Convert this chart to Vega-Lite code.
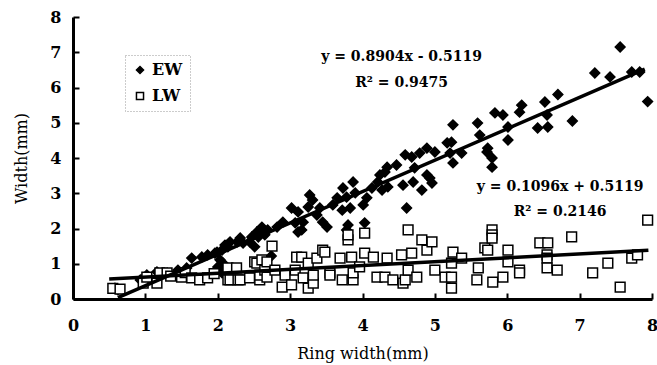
{
  "$schema": "https://vega.github.io/schema/vega-lite/v6.json",
  "autosize": {"type": "none"},
  "width": 579,
  "height": 282,
  "padding": {"left": 73, "top": 17, "right": 5, "bottom": 66},
  "background": "white",
  "config": {
    "view": {"stroke": null},
    "font": "DejaVu Serif",
    "axis": {
      "domainColor": "black", "domainWidth": 3,
      "tickColor": "black", "tickWidth": 2, "tickSize": -6,
      "labelFont": "DejaVu Serif", "labelFontSize": 16, "labelFontWeight": "bold", "labelColor": "black", "labelOverlap": false, "labelFlush": false,
      "titleFont": "DejaVu Serif", "titleFontSize": 16, "titleFontWeight": "normal", "titleColor": "black",
      "grid": false
    },
    "legend": {
      "symbolStrokeColor": "black", "symbolStrokeWidth": 1.5,
      "labelFont": "DejaVu Serif", "labelFontSize": 16, "labelFontWeight": "bold", "labelColor": "black",
      "symbolSize": 50, "rowPadding": 10, "padding": 7, "strokeColor": "#999", "strokeDash": [1, 2],
      "orient": "none", "legendX": 52, "legendY": 38
    }
  },
  "encoding": {
    "x": {"field": "rw", "type": "quantitative", "scale": {"domain": [0, 8], "nice": false},
          "axis": {"title": "Ring width(mm)", "values": [0,1,2,3,4,5,6,7,8], "format": "d", "labelOverlap": false, "labelPadding": 24, "titlePadding": 12}},
    "y": {"field": "w", "type": "quantitative", "scale": {"domain": [0, 8], "nice": false},
          "axis": {"title": "Width(mm)", "values": [0,1,2,3,4,5,6,7,8], "format": "d", "labelOverlap": false, "labelPadding": 18, "titlePadding": 20}}
  },
  "layer": [
    {
      "data": {"values": [
        {"series":"EW","rw":0.58,"w":0.31},{"series":"EW","rw":0.62,"w":0.26},{"series":"EW","rw":0.93,"w":0.54},
        {"series":"EW","rw":1.02,"w":0.68},{"series":"EW","rw":1.16,"w":0.77},{"series":"EW","rw":1.30,"w":0.74},
        {"series":"EW","rw":1.45,"w":0.82},{"series":"EW","rw":1.57,"w":0.88},{"series":"EW","rw":1.64,"w":1.16},
        {"series":"EW","rw":1.78,"w":1.19},{"series":"EW","rw":1.86,"w":1.25},{"series":"EW","rw":1.96,"w":1.30},
        {"series":"EW","rw":1.99,"w":1.33},{"series":"EW","rw":2.03,"w":1.11},{"series":"EW","rw":2.00,"w":0.91},
        {"series":"EW","rw":2.06,"w":0.74},{"series":"EW","rw":2.07,"w":1.02},{"series":"EW","rw":2.06,"w":1.39},
        {"series":"EW","rw":2.10,"w":1.53},{"series":"EW","rw":2.14,"w":1.48},{"series":"EW","rw":2.17,"w":1.62},
        {"series":"EW","rw":2.27,"w":1.62},{"series":"EW","rw":2.31,"w":1.73},{"series":"EW","rw":2.35,"w":1.59},
        {"series":"EW","rw":2.44,"w":1.62},{"series":"EW","rw":2.47,"w":1.76},{"series":"EW","rw":2.51,"w":1.48},
        {"series":"EW","rw":2.54,"w":1.90},{"series":"EW","rw":2.56,"w":1.76},{"series":"EW","rw":2.61,"w":2.04},
        {"series":"EW","rw":2.65,"w":1.82},{"series":"EW","rw":2.69,"w":1.96},{"series":"EW","rw":2.74,"w":1.22},
        {"series":"EW","rw":2.82,"w":2.04},{"series":"EW","rw":2.90,"w":2.18},{"series":"EW","rw":3.02,"w":2.58},
        {"series":"EW","rw":3.07,"w":2.16},{"series":"EW","rw":3.11,"w":2.47},{"series":"EW","rw":3.11,"w":1.90},
        {"series":"EW","rw":3.16,"w":1.96},{"series":"EW","rw":3.18,"w":2.18},{"series":"EW","rw":3.25,"w":2.61},
        {"series":"EW","rw":3.27,"w":2.95},{"series":"EW","rw":3.31,"w":2.81},{"series":"EW","rw":3.37,"w":2.38},
        {"series":"EW","rw":3.41,"w":2.58},{"series":"EW","rw":3.45,"w":2.18},{"series":"EW","rw":3.51,"w":2.04},
        {"series":"EW","rw":3.59,"w":2.67},{"series":"EW","rw":3.65,"w":2.87},{"series":"EW","rw":3.72,"w":2.52},
        {"series":"EW","rw":3.73,"w":3.15},{"series":"EW","rw":3.78,"w":2.89},{"series":"EW","rw":3.78,"w":1.96},
        {"series":"EW","rw":3.80,"w":2.10},{"series":"EW","rw":3.83,"w":2.58},{"series":"EW","rw":3.87,"w":3.32},
        {"series":"EW","rw":3.90,"w":3.01},{"series":"EW","rw":4.01,"w":2.67},{"series":"EW","rw":4.03,"w":2.16},
        {"series":"EW","rw":4.06,"w":2.87},{"series":"EW","rw":4.13,"w":3.15},{"series":"EW","rw":4.21,"w":3.32},
        {"series":"EW","rw":4.24,"w":3.52},{"series":"EW","rw":4.27,"w":3.09},{"series":"EW","rw":4.31,"w":3.60},
        {"series":"EW","rw":4.34,"w":3.74},{"series":"EW","rw":4.35,"w":3.18},{"series":"EW","rw":4.47,"w":3.80},
        {"series":"EW","rw":4.56,"w":3.23},{"series":"EW","rw":4.59,"w":4.09},{"series":"EW","rw":4.61,"w":2.58},
        {"series":"EW","rw":4.68,"w":4.03},{"series":"EW","rw":4.70,"w":3.32},{"series":"EW","rw":4.72,"w":3.72},
        {"series":"EW","rw":4.79,"w":4.14},{"series":"EW","rw":4.82,"w":3.09},{"series":"EW","rw":4.89,"w":4.28},
        {"series":"EW","rw":4.89,"w":3.52},{"series":"EW","rw":4.93,"w":3.43},{"series":"EW","rw":4.96,"w":3.29},
        {"series":"EW","rw":5.00,"w":4.17},{"series":"EW","rw":5.17,"w":4.43},{"series":"EW","rw":5.21,"w":4.14},
        {"series":"EW","rw":5.23,"w":4.45},{"series":"EW","rw":5.25,"w":4.94},{"series":"EW","rw":5.25,"w":3.86},
        {"series":"EW","rw":5.37,"w":4.14},{"series":"EW","rw":5.59,"w":4.99},{"series":"EW","rw":5.62,"w":4.65},
        {"series":"EW","rw":5.72,"w":4.17},{"series":"EW","rw":5.73,"w":4.28},{"series":"EW","rw":5.79,"w":4.00},
        {"series":"EW","rw":5.79,"w":3.74},{"series":"EW","rw":5.83,"w":5.28},{"series":"EW","rw":5.94,"w":5.22},
        {"series":"EW","rw":6.01,"w":4.88},{"series":"EW","rw":6.01,"w":4.51},{"series":"EW","rw":6.17,"w":5.30},
        {"series":"EW","rw":6.20,"w":5.50},{"series":"EW","rw":6.42,"w":4.85},{"series":"EW","rw":6.52,"w":5.59},
        {"series":"EW","rw":6.55,"w":5.22},{"series":"EW","rw":6.56,"w":4.88},{"series":"EW","rw":6.70,"w":5.80},
        {"series":"EW","rw":6.90,"w":5.05},{"series":"EW","rw":7.21,"w":6.41},{"series":"EW","rw":7.42,"w":6.30},
        {"series":"EW","rw":7.56,"w":7.15},{"series":"EW","rw":7.72,"w":6.44},{"series":"EW","rw":7.83,"w":6.44},
        {"series":"EW","rw":7.94,"w":5.60},
        {"series":"LW","rw":0.55,"w":0.30},{"series":"LW","rw":0.65,"w":0.28},{"series":"LW","rw":0.97,"w":0.45},
        {"series":"LW","rw":1.02,"w":0.62},{"series":"LW","rw":1.16,"w":0.45},{"series":"LW","rw":1.20,"w":0.74},
        {"series":"LW","rw":1.30,"w":0.74},{"series":"LW","rw":1.35,"w":0.65},{"series":"LW","rw":1.50,"w":0.62},
        {"series":"LW","rw":1.55,"w":0.75},{"series":"LW","rw":1.64,"w":0.60},{"series":"LW","rw":1.75,"w":0.54},
        {"series":"LW","rw":1.86,"w":0.60},{"series":"LW","rw":1.95,"w":0.72},{"series":"LW","rw":2.14,"w":0.54},
        {"series":"LW","rw":2.14,"w":0.88},{"series":"LW","rw":2.17,"w":0.54},{"series":"LW","rw":2.26,"w":0.88},
        {"series":"LW","rw":2.28,"w":0.54},{"series":"LW","rw":2.31,"w":0.54},{"series":"LW","rw":2.44,"w":0.60},
        {"series":"LW","rw":2.51,"w":1.05},{"series":"LW","rw":2.54,"w":1.02},{"series":"LW","rw":2.58,"w":0.54},
        {"series":"LW","rw":2.58,"w":0.68},{"series":"LW","rw":2.61,"w":1.11},{"series":"LW","rw":2.65,"w":0.82},
        {"series":"LW","rw":2.68,"w":1.05},{"series":"LW","rw":2.68,"w":0.62},{"series":"LW","rw":2.75,"w":1.50},
        {"series":"LW","rw":2.79,"w":0.82},{"series":"LW","rw":2.89,"w":0.34},{"series":"LW","rw":2.93,"w":0.68},
        {"series":"LW","rw":3.02,"w":0.40},{"series":"LW","rw":3.07,"w":0.82},{"series":"LW","rw":3.09,"w":1.19},
        {"series":"LW","rw":3.16,"w":1.19},{"series":"LW","rw":3.18,"w":0.60},{"series":"LW","rw":3.25,"w":1.02},
        {"series":"LW","rw":3.25,"w":0.31},{"series":"LW","rw":3.32,"w":0.45},{"series":"LW","rw":3.32,"w":0.68},
        {"series":"LW","rw":3.37,"w":1.16},{"series":"LW","rw":3.45,"w":1.39},{"series":"LW","rw":3.48,"w":1.33},
        {"series":"LW","rw":3.55,"w":0.74},{"series":"LW","rw":3.55,"w":0.68},{"series":"LW","rw":3.69,"w":1.16},
        {"series":"LW","rw":3.72,"w":0.54},{"series":"LW","rw":3.80,"w":1.68},{"series":"LW","rw":3.80,"w":1.82},
        {"series":"LW","rw":3.85,"w":1.19},{"series":"LW","rw":3.87,"w":0.54},{"series":"LW","rw":3.87,"w":0.74},
        {"series":"LW","rw":3.96,"w":0.91},{"series":"LW","rw":4.03,"w":1.30},{"series":"LW","rw":4.03,"w":1.87},
        {"series":"LW","rw":4.15,"w":1.19},{"series":"LW","rw":4.20,"w":0.62},{"series":"LW","rw":4.31,"w":0.62},
        {"series":"LW","rw":4.34,"w":1.16},{"series":"LW","rw":4.42,"w":0.54},{"series":"LW","rw":4.54,"w":1.25},
        {"series":"LW","rw":4.56,"w":0.45},{"series":"LW","rw":4.59,"w":0.54},{"series":"LW","rw":4.63,"w":1.96},
        {"series":"LW","rw":4.63,"w":0.82},{"series":"LW","rw":4.68,"w":1.30},{"series":"LW","rw":4.75,"w":0.62},
        {"series":"LW","rw":4.82,"w":1.68},{"series":"LW","rw":4.89,"w":1.39},{"series":"LW","rw":4.96,"w":1.62},
        {"series":"LW","rw":5.00,"w":0.82},{"series":"LW","rw":5.14,"w":0.62},{"series":"LW","rw":5.23,"w":1.02},
        {"series":"LW","rw":5.23,"w":0.62},{"series":"LW","rw":5.23,"w":0.31},{"series":"LW","rw":5.25,"w":1.33},
        {"series":"LW","rw":5.37,"w":1.16},{"series":"LW","rw":5.58,"w":0.54},{"series":"LW","rw":5.60,"w":0.88},
        {"series":"LW","rw":5.69,"w":1.45},{"series":"LW","rw":5.73,"w":1.39},{"series":"LW","rw":5.79,"w":1.96},
        {"series":"LW","rw":5.79,"w":1.82},{"series":"LW","rw":5.79,"w":1.73},{"series":"LW","rw":5.80,"w":0.48},
        {"series":"LW","rw":5.94,"w":0.62},{"series":"LW","rw":6.01,"w":1.39},{"series":"LW","rw":6.01,"w":1.05},
        {"series":"LW","rw":6.17,"w":0.82},{"series":"LW","rw":6.17,"w":0.74},{"series":"LW","rw":6.45,"w":1.59},
        {"series":"LW","rw":6.55,"w":1.25},{"series":"LW","rw":6.55,"w":1.16},{"series":"LW","rw":6.56,"w":1.59},
        {"series":"LW","rw":6.55,"w":0.88},{"series":"LW","rw":6.69,"w":0.82},{"series":"LW","rw":6.89,"w":1.76},
        {"series":"LW","rw":7.18,"w":0.74},{"series":"LW","rw":7.39,"w":1.02},{"series":"LW","rw":7.56,"w":0.34},
        {"series":"LW","rw":7.72,"w":1.16},{"series":"LW","rw":7.80,"w":1.25},{"series":"LW","rw":7.94,"w":2.24}
      ]},
      "mark": {"type": "point", "opacity": 1, "strokeWidth": 1.5, "size": 95},
      "encoding": {
        "shape": {"field": "series", "type": "nominal", "scale": {"domain": ["EW", "LW"], "range": ["diamond", "square"]},
                  "legend": {"title": null}},
        "fill": {"field": "series", "type": "nominal", "scale": {"domain": ["EW", "LW"], "range": ["black", "white"]},
                 "legend": {"title": null}},
        "stroke": {"field": "series", "type": "nominal", "scale": {"domain": ["EW", "LW"], "range": ["black", "black"]},
                 "legend": {"title": null}}
      }
    },
    {
      "data": {"values": [
        {"fit": "EW", "rw": 0.62, "w": 0.04}, {"fit": "EW", "rw": 7.9, "w": 6.52},
        {"fit": "LW", "rw": 0.5, "w": 0.567}, {"fit": "LW", "rw": 7.95, "w": 1.383}
      ]},
      "mark": {"type": "line", "color": "black", "strokeWidth": 3.5},
      "encoding": {
        "detail": {"field": "fit", "type": "nominal"}
      }
    },
    {
      "data": {"values": [
        {"label": "y = 0.8904x - 0.5119", "rw": 4.54, "w": 6.87},
        {"label": "R² = 0.9475", "rw": 4.54, "w": 6.13},
        {"label": "y = 0.1096x + 0.5119", "rw": 6.73, "w": 3.18},
        {"label": "R² = 0.2146", "rw": 6.73, "w": 2.47}
      ]},
      "mark": {"type": "text", "font": "DejaVu Serif", "fontSize": 14, "fontWeight": "bold", "color": "black", "align": "center", "baseline": "middle"},
      "encoding": {
        "text": {"field": "label", "type": "nominal"}
      }
    }
  ]
}
